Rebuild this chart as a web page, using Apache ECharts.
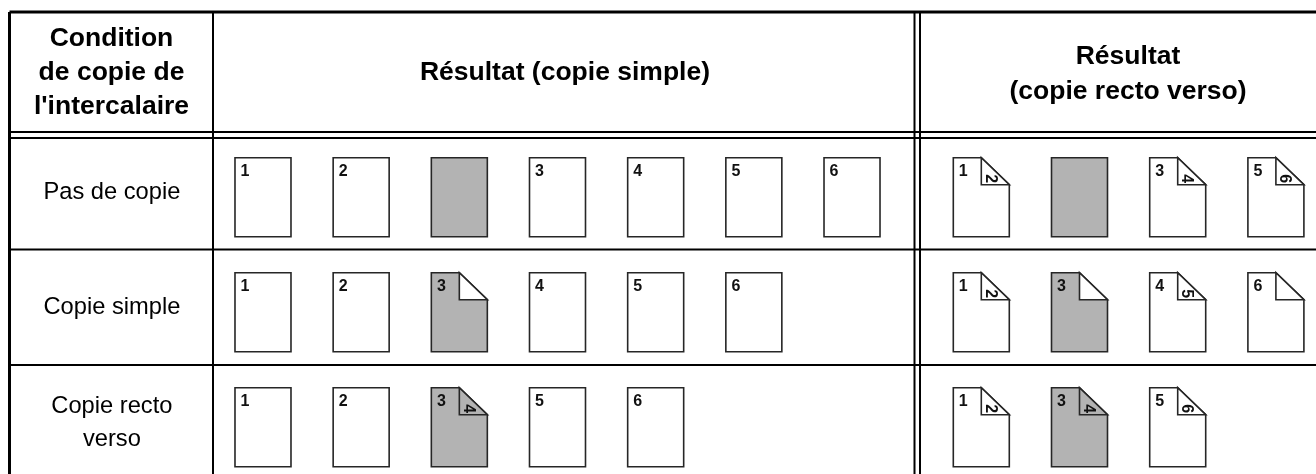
<!DOCTYPE html>
<html>
<head>
<meta charset="utf-8">
<style>
html, body { margin: 0; padding: 0; background: #fff; }
#chart { width: 1316px; height: 474px; }
</style>
<script src="https://cdn.jsdelivr.net/npm/echarts@6/dist/echarts.min.js"></script>
</head>
<body>
<div id="chart"></div>
<script>
// Libellés du tableau
const conditions = ['Pas de copie', 'Copie simple', 'Copie recto\nverso'];
const headConditionText = "Condition\nde copie de\nl'intercalaire";
const headSimpleText = 'Résultat (copie simple)';
const headDuplexText = 'Résultat\n(copie recto verso)';

// Colonne de gauche : copie simple (recto de chaque feuille)
const simpleFronts = [
    ['1', '2', '', '3', '4', '5', '6'],
    ['1', '2', '3', '4', '5', '6'],
    ['1', '2', '3', '5', '6']
];
// verso : null = pas de coin plié, '' = coin plié vide
const simpleBacks = [
    [null, null, null, null, null, null, null],
    [null, null, '', null, null, null],
    [null, null, '4', null, null]
];
const simpleShaded = [2, 2, 2];

// Colonne de droite : copie recto verso
const duplexFronts = [
    ['1', '', '3', '5'],
    ['1', '3', '4', '6'],
    ['1', '3', '5']
];
const duplexBacks = [
    ['2', null, '4', '6'],
    ['2', '', '5', ''],
    ['2', '4', '6']
];
const duplexShaded = [1, 1, 1];

const simpleSlots = ['a', 'b', 'c', 'd', 'e', 'f', 'g'];
const duplexSlots = ['a', 'b', 'c', 'd'];

const PAGE_W = 56, PAGE_H = 79, FOLD_W = 28, FOLD_H = 27;
const INK = '#262626', SHADE = '#b3b3b3';
const FONT = 'Liberation Sans';

function digitStyle(text) {
    return { text, fontFamily: FONT, fontWeight: 'bold', fontSize: 16, fill: '#111', align: 'center', verticalAlign: 'middle' };
}

// Transforme les tableaux en lignes pour la série custom
function buildRows(fronts, backs, shaded) {
    const rows = [];
    fronts.forEach((line, r) => {
        line.forEach((front, s) => {
            rows.push({ slot: s, row: r, front, back: backs[r][s], shaded: shaded[r] === s });
        });
    });
    return rows;
}

// Dessin d'une feuille, centrée sur sa case d'axe
function renderPage(sheet, api) {
    const c = api.coord([api.value(0), api.value(1)]);
    const fill = sheet.shaded ? SHADE : '#fff';
    const x0 = c[0] - PAGE_W / 2, y0 = c[1] - PAGE_H / 2;
    const x1 = x0 + PAGE_W, y1 = y0 + PAGE_H;
    const fx = x0 + FOLD_W, fy = y0 + FOLD_H;
    const style = { stroke: INK, lineWidth: 1.6, lineJoin: 'miter' };
    const children = [];

    if (sheet.back === null) {
        children.push({ type: 'rect', shape: { x: x0, y: y0, width: PAGE_W, height: PAGE_H },
            style: Object.assign({ fill }, style) });
    } else {
        children.push({ type: 'polygon',
            shape: { points: [[x0, y0], [fx, y0], [x1, fy], [x1, y1], [x0, y1]] },
            style: Object.assign({ fill }, style) });
        // le coin plié reste blanc, sauf s'il porte un numéro sur une feuille grise
        children.push({ type: 'polygon',
            shape: { points: [[fx, y0], [x1, fy], [fx, fy]] },
            style: Object.assign({ fill: sheet.back !== '' && sheet.shaded ? SHADE : '#fff' }, style) });
        if (sheet.back !== '') {
            children.push({ type: 'text', x: fx + 9, y: fy - 6, rotation: -Math.PI / 2, style: digitStyle(sheet.back) });
        }
    }
    if (sheet.front !== '') {
        children.push({ type: 'text', x: x0 + 10, y: y0 + 14, style: digitStyle(sheet.front) });
    }
    return { type: 'group', children };
}

function pageSeries(idx, fronts, backs, shaded) {
    const rows = buildRows(fronts, backs, shaded);
    return {
        type: 'custom',
        xAxisIndex: idx,
        yAxisIndex: idx,
        silent: true,
        animation: false,
        clip: false,
        encode: { x: 0, y: 1 },
        renderItem: (params, api) => renderPage(rows[params.dataIndex], api),
        data: rows.map(sheet => [sheet.slot, sheet.row])
    };
}

// Filets du tableau (habillage, pas des données)
function rule(x1, y1, x2, y2, w) {
    return { type: 'line', silent: true, shape: { x1, y1, x2, y2 }, style: { stroke: '#000', lineWidth: w } };
}
function head(text, x, y, lineHeight) {
    return { type: 'text', silent: true, x, y,
        style: { text, fontFamily: FONT, fontWeight: 'bold', fontSize: 26.5, fill: '#000', align: 'center', verticalAlign: 'middle', lineHeight } };
}

const chart = echarts.init(document.getElementById('chart'), null, { renderer: 'canvas' });
chart.setOption({
    animation: false,
    backgroundColor: '#fff',
    grid: [
        { left: 213.9, top: 139.7, width: 687.2, height: 345, outerBoundsMode: 'none' },
        { left: 932.2, top: 139.7, width: 392.8, height: 345, outerBoundsMode: 'none' },
        // grille des libellés de ligne, un peu plus haute que les feuilles
        { left: 213.9, top: 135.2, width: 687.2, height: 345, outerBoundsMode: 'none' }
    ],
    xAxis: [
        { gridIndex: 0, type: 'category', data: simpleSlots, show: false },
        { gridIndex: 1, type: 'category', data: duplexSlots, show: false },
        { gridIndex: 2, type: 'category', data: simpleSlots, show: false }
    ],
    yAxis: [
        { gridIndex: 0, type: 'category', inverse: true, data: conditions, show: false },
        { gridIndex: 1, type: 'category', inverse: true, data: conditions, show: false },
        {
            gridIndex: 2, type: 'category', inverse: true, data: conditions,
            axisLine: { show: false }, axisTick: { show: false }, splitLine: { show: false },
            axisLabel: {
                interval: 0, margin: 102, align: 'center', color: '#000',
                fontFamily: FONT, fontSize: 23.7, lineHeight: 33
            }
        }
    ],
    series: [
        pageSeries(0, simpleFronts, simpleBacks, simpleShaded),
        pageSeries(1, duplexFronts, duplexBacks, duplexShaded)
    ],
    graphic: [
        rule(9.5, 12, 1316, 12, 3),
        rule(9.5, 12, 9.5, 474, 3),
        rule(213, 12, 213, 474, 2),
        rule(914.5, 12, 914.5, 474, 2),
        rule(920, 12, 920, 474, 2),
        rule(9.5, 132, 1316, 132, 2),
        rule(9.5, 138, 1316, 138, 2),
        rule(9.5, 249.5, 1316, 249.5, 2),
        rule(9.5, 365, 1316, 365, 2),
        head(headConditionText, 111.5, 73, 34),
        head(headSimpleText, 565, 73, 36),
        head(headDuplexText, 1128, 74, 35.6)
    ]
});
</script>
</body>
</html>
